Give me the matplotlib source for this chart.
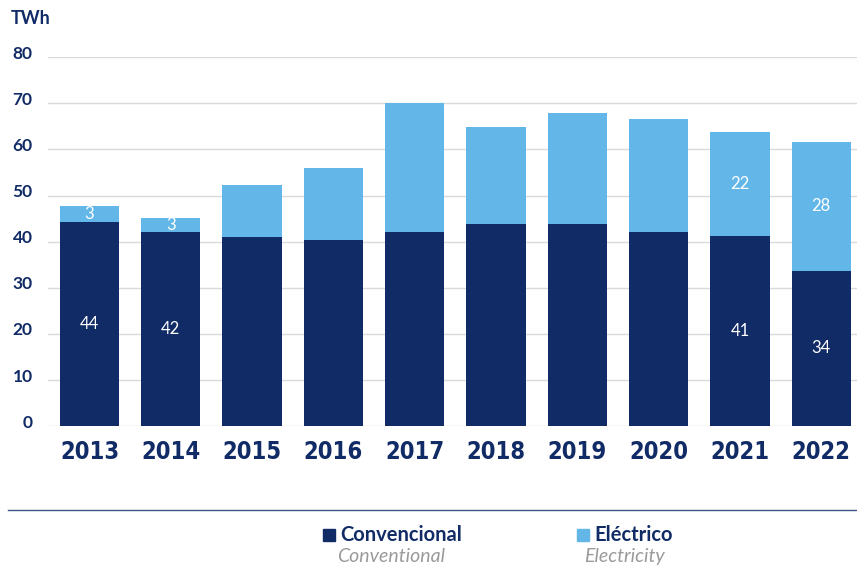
import matplotlib
matplotlib.use("Agg")
import matplotlib.pyplot as plt
import matplotlib.transforms as mtransforms
from matplotlib.patches import Rectangle
from matplotlib import font_manager
import numpy as np

# Datos (TWh)
years = ['2013', '2014', '2015', '2016', '2017', '2018', '2019', '2020', '2021', '2022']
convencional = [44.3, 42.0, 41.1, 40.4, 42.0, 43.9, 43.9, 42.2, 41.3, 33.7]
electrico = [3.5, 3.2, 11.1, 15.5, 28.0, 20.9, 23.9, 24.5, 22.4, 28.0]
conv_labels = ['44', '42', '', '', '', '', '', '', '41', '34']
elec_labels = ['3', '3', '', '', '', '', '', '', '22', '28']
y_ticks = [0, 10, 20, 30, 40, 50, 60, 70, 80]

NAVY = '#112b66'
LIGHT = '#62b7e8'
GRID = '#dadada'

plt.rcParams['font.family'] = ['Lato', 'DejaVu Sans']

names = sorted({f.name for f in font_manager.fontManager.ttflist})
print(names)
print([f.fname for f in font_manager.fontManager.ttflist if 'Condensed' in f.fname or 'Narrow' in f.fname])

fig = plt.figure(figsize=(8.57, 5.66), dpi=100)
ax = fig.add_axes([0.056, 0.247, 0.944, 0.652])

x = np.arange(len(years))
b1 = ax.bar(x, convencional, width=0.73, color=NAVY, zorder=3)
b2 = ax.bar(x, electrico, width=0.73, bottom=convencional, color=LIGHT, zorder=3)

ax.bar_label(b1, labels=conv_labels, label_type='center', color='white', fontsize=12)
ax.bar_label(b2, labels=elec_labels, label_type='center', color='white', fontsize=12)

ax.set_xlim(-0.51, 9.44)
ax.set_ylim(0, 80)
ax.set_yticks(y_ticks)
ax.set_yticklabels([str(v) for v in y_ticks], fontsize=12.5, fontweight='bold', color=NAVY)
ax.set_xticks(x)
ax.set_xticklabels(years, fontsize=17, fontweight='bold', color=NAVY,
                   family='DejaVu Sans', fontstretch='condensed')
ax.tick_params(axis='y', length=0, pad=11)
ax.tick_params(axis='x', length=0, pad=10)
ax.yaxis.grid(True, color=GRID, lw=1, zorder=0)
for s in ax.spines.values():
    s.set_visible(False)

# etiquetas del eje y un poco por encima de la línea
off = mtransforms.ScaledTranslation(0, 5 / 100, fig.dpi_scale_trans)
for lbl in ax.get_yticklabels():
    lbl.set_transform(lbl.get_transform() + off)

fig.text(0.012, 0.968, 'TWh', fontsize=13, fontweight='bold', color=NAVY, va='center')

# Línea separadora
fig.add_artist(plt.Line2D([0.009, 1.0], [0.099, 0.099], color=NAVY, lw=1, alpha=0.8))

# Leyenda manual
fig.add_artist(Rectangle((0.377, 0.045), 0.014, 0.021, color=NAVY, transform=fig.transFigure))
fig.text(0.397, 0.054, 'Convencional', fontsize=14.5, fontweight='bold', color=NAVY, va='center')
fig.text(0.393, 0.016, 'Conventional', fontsize=14, style='italic', color='#9a9a9a', va='center')
fig.add_artist(Rectangle((0.673, 0.045), 0.014, 0.021, color=LIGHT, transform=fig.transFigure))
fig.text(0.693, 0.054, 'Eléctrico', fontsize=14.5, fontweight='bold', color=NAVY, va='center')
fig.text(0.681, 0.016, 'Electricity', fontsize=14, style='italic', color='#9a9a9a', va='center')

fig.savefig('out.png', dpi=100)
